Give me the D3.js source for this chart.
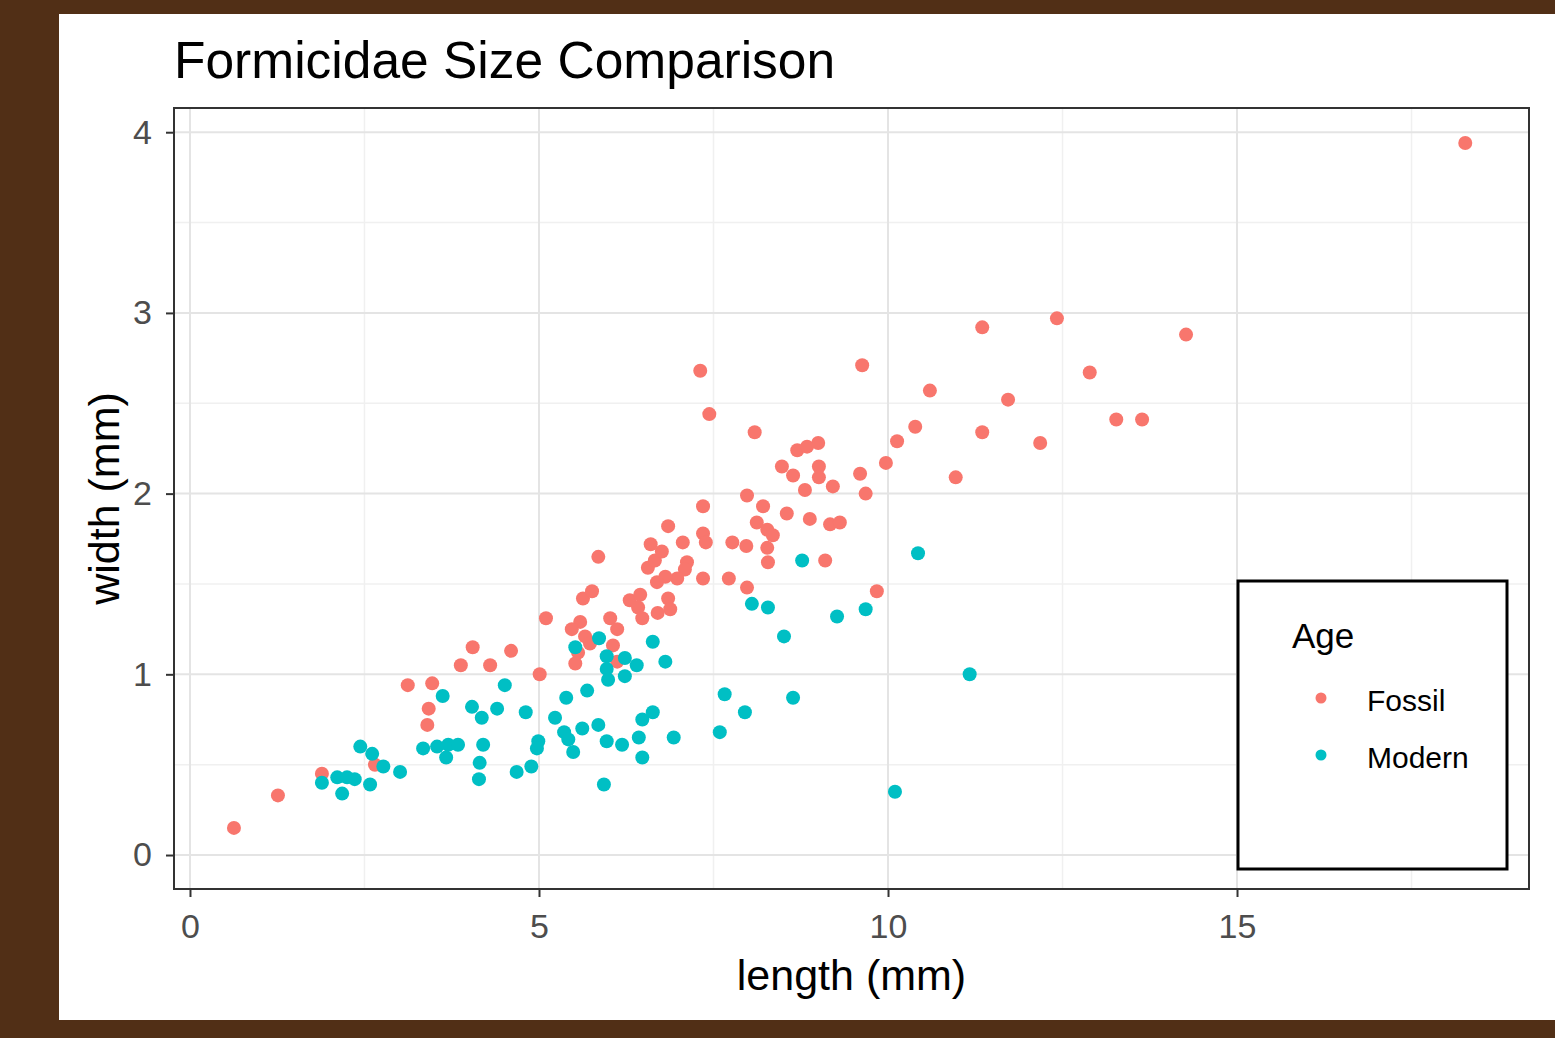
<!DOCTYPE html>
<html><head><meta charset="utf-8">
<script src="https://cdn.jsdelivr.net/npm/d3@7"></script>
<style>html,body{margin:0;padding:0;background:#512F16;}svg{display:block;}</style>
</head><body>
<svg id="chart" width="1555" height="1038"></svg>
<script>
// ---- data (length mm, width mm) ----
const fossilLength = [0.63,1.26,1.89,2.65,3.12,3.47,3.42,3.40,3.88,4.05,4.30,4.60,5.01,5.10,5.85,5.63,5.76,5.59,5.47,5.66,5.73,5.56,5.52,6.02,6.12,6.06,6.12,6.30,6.45,6.42,6.48,6.85,6.88,6.70,6.56,6.66,6.76,6.60,6.85,7.06,7.35,7.39,7.77,7.97,7.12,7.09,6.98,6.81,6.69,7.35,7.72,7.98,7.35,7.44,7.31,7.98,8.21,8.55,8.12,8.27,8.35,8.27,8.28,8.09,8.48,8.64,8.70,8.84,9.00,9.01,9.01,8.81,9.21,8.88,9.17,9.31,9.10,9.84,9.60,9.97,9.68,10.13,10.39,10.60,10.97,9.63,11.35,11.35,11.72,12.18,12.42,12.89,13.27,13.64,14.27,18.27];
const fossilWidth  = [0.15,0.33,0.45,0.50,0.94,0.95,0.81,0.72,1.05,1.15,1.05,1.13,1.00,1.31,1.65,1.42,1.46,1.29,1.25,1.21,1.17,1.12,1.06,1.31,1.25,1.16,1.07,1.41,1.44,1.37,1.31,1.42,1.36,1.34,1.59,1.63,1.68,1.72,1.82,1.73,1.78,1.73,1.73,1.71,1.62,1.58,1.53,1.54,1.51,1.53,1.53,1.48,1.93,2.44,2.68,1.99,1.93,1.89,1.84,1.80,1.77,1.70,1.62,2.34,2.15,2.10,2.24,2.26,2.28,2.15,2.09,2.02,2.04,1.86,1.83,1.84,1.63,1.46,2.11,2.17,2.00,2.29,2.37,2.57,2.09,2.71,2.92,2.34,2.52,2.28,2.97,2.67,2.41,2.41,2.88,3.94];
const modernLength = [1.89,2.11,2.25,2.36,2.58,2.18,2.44,2.61,2.77,3.01,3.34,3.54,3.70,3.84,3.67,3.62,4.04,4.18,4.40,4.51,4.81,4.20,4.15,4.14,4.99,4.97,4.68,4.89,5.23,5.39,5.69,5.36,5.42,5.49,5.62,5.85,5.97,6.19,5.93,5.52,5.86,5.97,5.97,5.99,6.23,6.40,6.23,6.63,6.81,6.43,6.48,6.63,6.48,6.93,7.66,7.59,7.95,8.64,8.51,8.05,8.28,9.27,9.68,8.77,10.43,11.17,10.10];
const modernWidth  = [0.40,0.43,0.43,0.42,0.39,0.34,0.60,0.56,0.49,0.46,0.59,0.60,0.61,0.61,0.54,0.88,0.82,0.76,0.81,0.94,0.79,0.61,0.51,0.42,0.63,0.59,0.46,0.49,0.76,0.87,0.91,0.68,0.64,0.57,0.70,0.72,0.63,0.61,0.39,1.15,1.20,1.10,1.03,0.97,1.09,1.05,0.99,1.18,1.07,0.65,0.75,0.79,0.54,0.65,0.89,0.68,0.79,0.87,1.21,1.39,1.37,1.32,1.36,1.63,1.67,1.00,0.35];
const groups = ["Fossil","Modern"];
const groupColors = ["#F8766D","#00BFC4"];
const xTicks = [0,5,10,15];
const yTicks = [0,1,2,3,4];
const xMinor = [2.5,7.5,12.5,17.5];
const yMinor = [0.5,1.5,2.5,3.5];
const titleText = "Formicidae Size Comparison";
const xLabel = "length (mm)";
const yLabel = "width (mm)";
const legendTitle = "Age";

const svg = d3.select("#chart");
const font = "'Liberation Sans', Arial, sans-serif";

// white card
svg.append("rect").attr("x",59).attr("y",14).attr("width",1555-59).attr("height",1020-14).attr("fill","#ffffff");

const L=174, R=1529, T=108, B=889;
const x = d3.scaleLinear().domain([-0.229, 19.183]).range([L,R]);
const y = d3.scaleLinear().domain([-0.188, 4.134]).range([B,T]);

const g = svg.append("g");
// minor grid
g.selectAll(".vmin").data(xMinor).join("line").attr("x1",d=>x(d)).attr("x2",d=>x(d)).attr("y1",T).attr("y2",B).attr("stroke","#F0F0F0").attr("stroke-width",1.5);
g.selectAll(".hmin").data(yMinor).join("line").attr("y1",d=>y(d)).attr("y2",d=>y(d)).attr("x1",L).attr("x2",R).attr("stroke","#F0F0F0").attr("stroke-width",1.5);
// major grid
g.selectAll(".vmaj").data(xTicks).join("line").attr("x1",d=>x(d)).attr("x2",d=>x(d)).attr("y1",T).attr("y2",B).attr("stroke","#E4E4E4").attr("stroke-width",2);
g.selectAll(".hmaj").data(yTicks).join("line").attr("y1",d=>y(d)).attr("y2",d=>y(d)).attr("x1",L).attr("x2",R).attr("stroke","#E4E4E4").attr("stroke-width",2);

// points
const fossil = fossilLength.map((v,i)=>({x:v,y:fossilWidth[i]}));
const modern = modernLength.map((v,i)=>({x:v,y:modernWidth[i]}));
g.selectAll(".f").data(fossil).join("circle").attr("cx",d=>x(d.x)).attr("cy",d=>y(d.y)).attr("r",7).attr("fill",groupColors[0]);
g.selectAll(".m").data(modern).join("circle").attr("cx",d=>x(d.x)).attr("cy",d=>y(d.y)).attr("r",7).attr("fill",groupColors[1]);

// axes
const xAxis = svg.append("g").attr("transform",`translate(0,${B})`)
  .call(d3.axisBottom(x).tickValues(xTicks).tickSize(8).tickPadding(17).tickFormat(d3.format("d")));
const yAxis = svg.append("g").attr("transform",`translate(${L},0)`)
  .call(d3.axisLeft(y).tickValues(yTicks).tickSize(8).tickPadding(14).tickFormat(d3.format("d")));
[xAxis,yAxis].forEach(a=>{
  a.select(".domain").remove();
  a.selectAll(".tick line").attr("stroke","#333333").attr("stroke-width",2);
  a.selectAll(".tick text").attr("fill","#4D4D4D").style("font-family",font).style("font-size","34px");
});
// panel border
svg.append("rect").attr("x",L).attr("y",T).attr("width",R-L).attr("height",B-T).attr("fill","none").attr("stroke","#333333").attr("stroke-width",2);

// titles
svg.append("text").attr("x",174).attr("y",78).text(titleText).attr("fill","#000").style("font-family",font).style("font-size","51.5px");
svg.append("text").attr("x",(L+R)/2).attr("y",990).attr("text-anchor","middle").text(xLabel).attr("fill","#000").style("font-family",font).style("font-size","43px");
svg.append("text").attr("transform",`translate(119,${(T+B)/2}) rotate(-90)`).attr("text-anchor","middle").text(yLabel).attr("fill","#000").style("font-family",font).style("font-size","43px");

// legend
const lg = svg.append("g");
lg.append("rect").attr("x",1238).attr("y",581).attr("width",269).attr("height",288).attr("fill","#fff").attr("stroke","#000").attr("stroke-width",3);
lg.append("text").attr("x",1292).attr("y",648).text(legendTitle).attr("fill","#000").style("font-family",font).style("font-size","35px");
lg.selectAll(".ld").data(groups).join("circle").attr("cx",1321).attr("cy",(d,i)=>698+i*57).attr("r",5.5).attr("fill",(d,i)=>groupColors[i]);
lg.selectAll(".lt").data(groups).join("text").attr("x",1367).attr("y",(d,i)=>711+i*57).text(d=>d).attr("fill","#000").style("font-family",font).style("font-size","30px");
</script>
</body></html>
